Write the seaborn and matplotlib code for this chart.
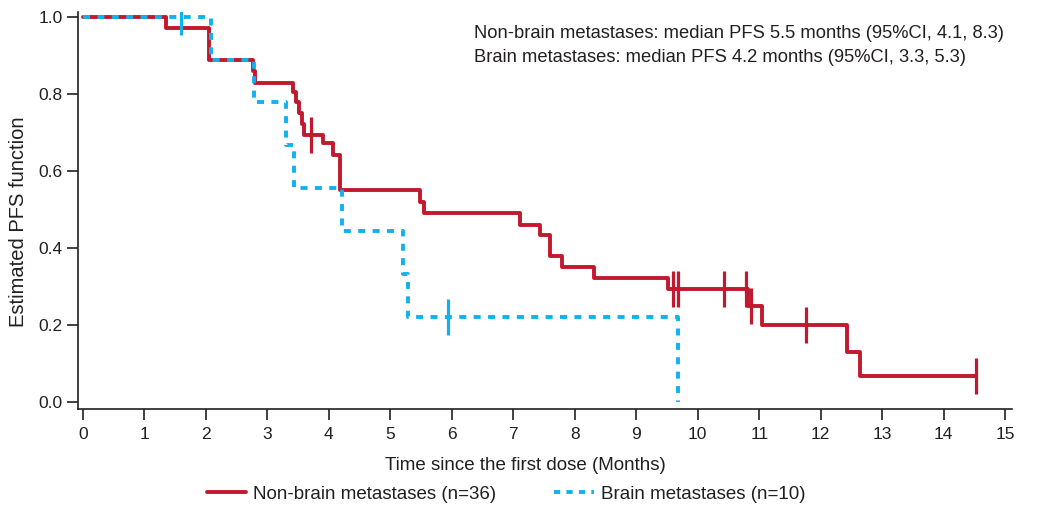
import matplotlib
matplotlib.use("Agg")
import matplotlib.pyplot as plt
from matplotlib.lines import Line2D
import seaborn as sns
import pandas as pd

# ---------------- data ----------------
red_t = [0, 1.35, 2.05, 2.76, 2.80, 3.42, 3.47, 3.52, 3.56, 3.60, 3.91, 4.07, 4.18,
         5.49, 5.54, 7.11, 7.43, 7.60, 7.79, 8.32, 9.52, 10.82, 11.04, 12.43, 12.63, 14.53]
red_s = [1.0, 0.972, 0.889, 0.861, 0.829, 0.806, 0.778, 0.750, 0.722, 0.694, 0.672, 0.642, 0.551,
         0.520, 0.490, 0.460, 0.433, 0.379, 0.350, 0.321, 0.293, 0.249, 0.200, 0.131, 0.068, 0.068]
red_cens_t = [3.71, 9.60, 9.67, 10.43, 10.79, 10.87, 11.76, 14.53]
red_cens_s = [0.694, 0.293, 0.293, 0.293, 0.293, 0.249, 0.200, 0.068]

blue_t = [0, 2.08, 2.78, 3.31, 3.44, 4.21, 5.20, 5.28, 9.68]
blue_s = [1.0, 0.889, 0.778, 0.667, 0.556, 0.444, 0.333, 0.222, 0.0]
blue_cens_t = [1.60, 5.93]
blue_cens_s = [1.0, 0.222]

x_ticks = list(range(0, 16))
y_ticks = [0.0, 0.2, 0.4, 0.6, 0.8, 1.0]
y_tick_labels = ["0.0", "0.2", "0.4", "0.6", "0.8", "1.0"]

series_labels = ["Non-brain metastases (n=36)", "Brain metastases (n=10)"]
note_lines = ["Non-brain metastases: median PFS 5.5 months (95%CI, 4.1, 8.3)",
              "Brain metastases: median PFS 4.2 months (95%CI, 3.3, 5.3)"]
x_label = "Time since the first dose (Months)"
y_label = "Estimated PFS function"

RED = "#C1192D"
BLUE = "#12B0EC"
DARK = "#231F20"

# ---------------- style ----------------
sns.set_style("ticks")
plt.rcParams["font.family"] = ["Liberation Sans", "DejaVu Sans"]
plt.rcParams["font.size"] = 12

fig = plt.figure(figsize=(10.5, 5.15), dpi=100)
ax = fig.add_axes([78 / 1050, 1 - 409 / 515, (1012 - 78) / 1050, (409 - 12) / 515])

df_red = pd.DataFrame({"t": red_t, "s": red_s})
df_blue = pd.DataFrame({"t": blue_t, "s": blue_s})
dfc_red = pd.DataFrame({"t": red_cens_t, "s": red_cens_s})
dfc_blue = pd.DataFrame({"t": blue_cens_t, "s": blue_cens_s})

LW = 2.8
sns.lineplot(data=df_red, x="t", y="s", ax=ax, color=RED, lw=LW, drawstyle="steps-post",
             estimator=None, sort=False, legend=False, zorder=3)
sns.lineplot(data=df_blue, x="t", y="s", ax=ax, color=BLUE, lw=LW, drawstyle="steps-post",
             linestyle=(0, (1.8, 1.9)), estimator=None, sort=False, legend=False, zorder=4)

sns.scatterplot(data=dfc_red, x="t", y="s", ax=ax, marker="|", s=700, linewidth=2.3,
                color=RED, legend=False, zorder=5)
sns.scatterplot(data=dfc_blue, x="t", y="s", ax=ax, marker="|", s=700, linewidth=2.3,
                color=BLUE, legend=False, zorder=5)

ax.set_xlim(-0.08, 15.11)
ax.set_ylim(-0.018, 1.013)
ax.set_xticks(x_ticks)
ax.set_xticklabels([str(v) for v in x_ticks])
ax.set_yticks(y_ticks)
ax.set_yticklabels(y_tick_labels)
ax.tick_params(direction="out", length=8, width=1.2, color=DARK, labelsize=12.5,
               labelcolor=DARK)
ax.tick_params(axis="x", pad=5)
ax.tick_params(axis="y", pad=3)
for side in ["left", "bottom"]:
    ax.spines[side].set_linewidth(1.2)
    ax.spines[side].set_color(DARK)
sns.despine(ax=ax)

ax.set_xlabel(x_label, fontsize=13.5, color=DARK)
ax.set_ylabel(y_label, fontsize=14.5, color=DARK)
ax.xaxis.set_label_coords((525 - 78) / 934, -(457 - 409) / 397)
ax.yaxis.set_label_coords(-(50) / 934, (409 - 222) / 397)

fig.text(474 / 1050, 1 - 33 / 515, note_lines[0], fontsize=13.2, color=DARK, ha="left", va="center")
fig.text(474 / 1050, 1 - 57 / 515, note_lines[1], fontsize=13.2, color=DARK, ha="left", va="center")

handles = [Line2D([], [], color=RED, lw=LW),
           Line2D([], [], color=BLUE, lw=LW, linestyle=(0, (1.6, 1.6)))]
fig.legend(handles, series_labels, loc="center", bbox_to_anchor=(506 / 1050, 1 - 494 / 515),
           ncol=2, frameon=False, fontsize=13.5, handlelength=2.1, handletextpad=0.37,
           columnspacing=3.1, labelcolor=DARK)

fig.savefig("out.png", dpi=100)
